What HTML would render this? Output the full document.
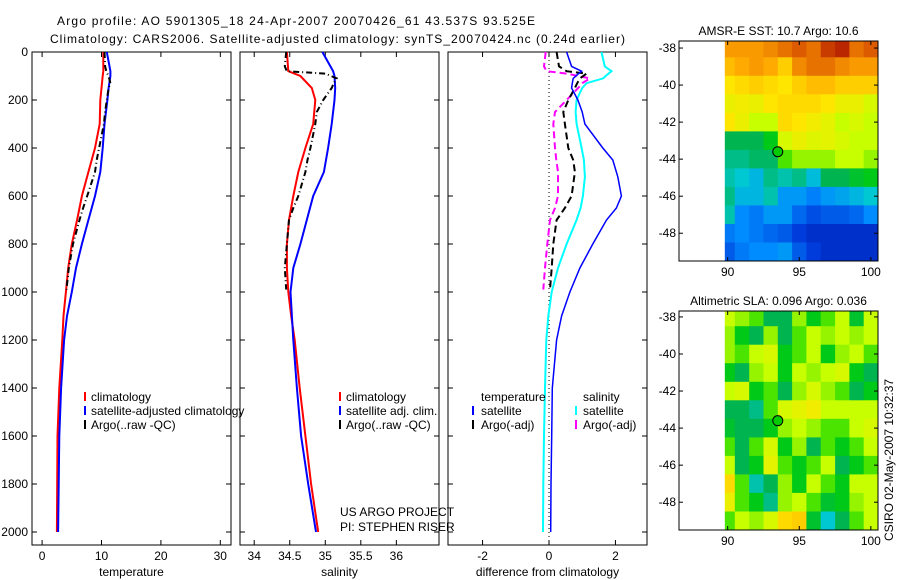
<!DOCTYPE html>
<html><head><meta charset="utf-8"><style>
body{margin:0;background:#fff;}
svg{display:block;font-family:"Liberation Sans",sans-serif;}
text{font-size:12px;fill:#000;}
</style></head><body>
<svg id="c" width="900" height="580" viewBox="0 0 900 580"></svg>
<script>
// ---------- profile data ----------
const depthClim=[0,80,100,150,200,300,400,500,600,700,800,900,1000,1100,1200,1400,1600,1800,2000];
const tempClim=[10.3,10.3,10.2,10.0,9.8,9.7,8.9,7.8,6.7,5.9,5.0,4.4,4.0,3.6,3.4,2.9,2.6,2.55,2.5];
const tempSat=[10.9,11.5,11.5,11.2,11.0,10.5,10.2,9.8,8.9,7.8,6.7,5.7,5.0,4.2,3.7,3.2,2.9,2.8,2.7];
const salClim=[34.46,34.48,34.65,34.81,34.86,34.83,34.72,34.62,34.55,34.49,34.46,34.46,34.48,34.52,34.57,34.64,34.72,34.8,34.9];
const salSat=[34.96,35.11,35.13,35.14,35.13,35.09,35.04,34.98,34.83,34.74,34.65,34.55,34.51,34.53,34.55,34.6,34.66,34.76,34.87];
const depthArgo=[0,60,80,90,110,130,150,200,250,300,400,450,500,600,650,700,800,900,990];
const tempArgo=[10.5,10.6,10.8,11.0,11.3,11.5,11.2,10.9,10.6,10.4,9.6,9.2,8.9,7.6,6.9,6.3,5.2,4.5,4.1];
const salArgo=[34.45,34.43,34.46,35.0,35.16,35.12,35.09,34.97,34.88,34.86,34.79,34.75,34.72,34.62,34.55,34.49,34.46,34.43,34.45];
const dTsat=[0.53,0.68,0.98,0.85,0.73,0.7,0.68,0.87,1.0,1.08,1.62,1.92,2.07,2.18,2.03,1.73,1.32,0.93,0.63,0.38,0.23,0.1,0.08,0.06,0.05];
const depthDiff=[0,60,80,95,110,130,150,200,250,300,400,450,520,600,650,700,800,900,1000,1100,1200,1400,1600,1800,2000];
const dSsat=[1.58,1.68,1.88,1.75,1.63,1.13,1.0,0.83,0.8,0.83,0.98,1.05,1.08,1.02,0.95,0.83,0.53,0.27,0.08,-0.02,-0.08,-0.12,-0.15,-0.17,-0.18];
const dTargo=[0.23,0.3,0.53,1.13,0.93,0.85,0.78,0.58,0.43,0.48,0.58,0.73,0.78,0.68,0.48,0.23,0.13,0.08,0.03];
const dSargo=[-0.1,-0.15,-0.07,0.53,1.23,1.0,0.88,0.53,0.18,0.13,0.18,0.22,0.27,0.27,0.18,0.03,-0.05,-0.12,-0.17];
// ---------- map data (colour index 0..1) ----------
const mapLons=[90,91,92,93,94,95,96,97,98,99,100];
const mapLats=[-38,-39,-40,-41,-42,-43,-44,-45,-46,-47,-48,-49];
const sstGrid=[
[0.8,0.8,0.8,0.82,0.85,0.88,0.85,0.92,0.95,0.85,0.88],
[0.75,0.78,0.8,0.78,0.72,0.82,0.85,0.85,0.82,0.8,0.8],
[0.68,0.7,0.72,0.7,0.68,0.72,0.75,0.75,0.72,0.72,0.72],
[0.65,0.66,0.65,0.68,0.7,0.7,0.7,0.68,0.65,0.65,0.62],
[0.68,0.65,0.6,0.6,0.7,0.68,0.66,0.64,0.6,0.62,0.6],
[0.45,0.45,0.45,0.5,0.62,0.65,0.63,0.64,0.62,0.6,0.6],
[0.42,0.42,0.44,0.44,0.55,0.58,0.58,0.58,0.6,0.6,0.58],
[0.4,0.38,0.35,0.42,0.4,0.42,0.36,0.45,0.45,0.48,0.5],
[0.42,0.35,0.35,0.4,0.3,0.3,0.26,0.3,0.32,0.35,0.38],
[0.4,0.28,0.25,0.3,0.3,0.22,0.18,0.2,0.2,0.22,0.28],
[0.25,0.28,0.25,0.22,0.2,0.15,0.12,0.12,0.12,0.12,0.12],
[0.2,0.25,0.28,0.28,0.3,0.2,0.15,0.12,0.12,0.12,0.12]];
const slaGrid=[
[0.6,0.58,0.55,0.45,0.45,0.58,0.5,0.55,0.6,0.48,0.6],
[0.58,0.5,0.45,0.58,0.45,0.55,0.6,0.58,0.6,0.58,0.6],
[0.58,0.55,0.6,0.62,0.5,0.55,0.6,0.5,0.58,0.6,0.55],
[0.5,0.45,0.58,0.6,0.5,0.6,0.58,0.6,0.62,0.5,0.45],
[0.6,0.62,0.5,0.55,0.45,0.58,0.62,0.58,0.55,0.45,0.5],
[0.45,0.45,0.42,0.55,0.62,0.64,0.66,0.6,0.6,0.6,0.6],
[0.48,0.45,0.45,0.5,0.58,0.6,0.58,0.55,0.55,0.6,0.62],
[0.55,0.45,0.55,0.62,0.5,0.58,0.45,0.55,0.5,0.55,0.6],
[0.6,0.45,0.5,0.64,0.55,0.5,0.55,0.6,0.45,0.5,0.55],
[0.7,0.55,0.4,0.45,0.58,0.5,0.6,0.55,0.5,0.6,0.6],
[0.65,0.55,0.5,0.42,0.58,0.6,0.55,0.48,0.5,0.58,0.6],
[0.55,0.6,0.58,0.62,0.7,0.72,0.48,0.38,0.45,0.55,0.6]];
const floatLon=93.5, floatLat=-43.6;
const depthTicks=[0,200,400,600,800,1000,1200,1400,1600,1800,2000];
const tempTicks=[0,10,20,30];
const salTicks=[34,34.5,35,35.5,36];
const salTickLabels=["34","34.5","35","35.5","36"];
const diffTicks=[-2,0,2];
const latTicks=[-38,-40,-42,-44,-46,-48];
const lonTicks=[90,95,100];

const NS="http://www.w3.org/2000/svg";
const svg=document.getElementById('c');
function el(tag,attrs,parent){const e=document.createElementNS(NS,tag);for(const k in attrs)e.setAttribute(k,attrs[k]);(parent||svg).appendChild(e);return e;}
function txt(x,y,s,anchor,parent,extra){const t=el('text',Object.assign({x:x,y:y,'text-anchor':anchor||'start'},extra||{}),parent);t.textContent=s;return t;}

const T0=52,DY=0.24;
function yD(d){return T0+d*DY;}
const BOT=545;
function panel(name,x0,x1,vmin,vmax,ticks,labels,xlabel,showY){
  const g=el('g',{});
  
  
  const sx=v=>x0+(v-vmin)/(vmax-vmin)*(x1-x0);
  el('rect',{x:x0,y:T0,width:x1-x0,height:BOT-T0,fill:'none',stroke:'#000','stroke-width':1},g);
  ticks.forEach((v,i)=>{const x=sx(v);
    el('line',{x1:x,y1:BOT,x2:x,y2:BOT-5,stroke:'#000'},g);
    el('line',{x1:x,y1:T0,x2:x,y2:T0+5,stroke:'#000'},g);
    const t=txt(x,560,labels[i],'middle',g);
    
    
  });
  depthTicks.forEach(d=>{const y=yD(d);
    el('line',{x1:x0,y1:y,x2:x0+5,y2:y,stroke:'#000'},g);
    el('line',{x1:x1,y1:y,x2:x1-5,y2:y,stroke:'#000'},g);
    if(showY){const t=txt(x0-4,y+4,String(d),'end',g);
      
      }
  });
  const xl=txt((x0+x1)/2,576,xlabel,'middle',g);
  
  
  return {g,sx};
}
function prof(p,vals,depths,color,dash,w,name){
  const pts=vals.map((v,i)=>p.sx(v).toFixed(1)+','+yD(depths[i]).toFixed(1)).join(' ');
  const l=el('polyline',{points:pts,fill:'none',stroke:color,'stroke-width':w||2,'stroke-dasharray':dash||'none'},p.g);
  
  
}
function leg(g,mx,tx,y,color,s,name){
  if(color){el('line',{x1:mx,y1:y-6,x2:mx,y2:y+3,stroke:color,'stroke-width':2},g);}
  const t=txt(tx,y+3,s,'start',g);
  
  
}

const t1=txt(57,25,"Argo profile: AO 5901305_18 24-Apr-2007 20070426_61 43.537S 93.525E",'start',null,{textLength:478,'font-size':'13px'});


const t2=txt(50,43,"Climatology: CARS2006. Satellite-adjusted climatology: synTS_20070424.nc (0.24d earlier)",'start',null,{textLength:575,'font-size':'13px'});



const p1=panel('temperature-panel',32,231,-1.7,31.8,tempTicks,tempTicks.map(String),'temperature',true);
prof(p1,tempClim,depthClim,'#f00',null,2,'temp-climatology-line');
prof(p1,tempSat,depthClim,'#00f',null,2,'temp-satellite-line');
prof(p1,tempArgo,depthArgo,'#000','6,3,1,3',2,'temp-argo-line');
leg(p1.g,85,91,398,'#f00','climatology','legend-climatology');
leg(p1.g,85,91,412,'#00f','satellite-adjusted climatology','legend-satellite');
leg(p1.g,85,91,426,'#000','Argo(..raw -QC)','legend-argo');

const p2=panel('salinity-panel',240,439,33.8,36.6,salTicks,salTickLabels,'salinity',false);
prof(p2,salClim,depthClim,'#f00',null,2,'sal-climatology-line');
prof(p2,salSat,depthClim,'#00f',null,2,'sal-satellite-line');
prof(p2,salArgo,depthArgo,'#000','6,3,1,3',2,'sal-argo-line');
leg(p2.g,340,346,398,'#f00','climatology','legend-climatology');
leg(p2.g,340,346,412,'#00f','satellite adj. clim.','legend-satellite');
leg(p2.g,340,346,426,'#000','Argo(..raw -QC)','legend-argo');
const c1=txt(340,516,'US ARGO PROJECT','start',p2.g);


const c2=txt(340,531,'PI: STEPHEN RISER','start',p2.g);



const p3=panel('difference-panel',448,647,-3.04,2.95,diffTicks,diffTicks.map(String),'difference from climatology',false);
el('line',{x1:p3.sx(0),y1:T0,x2:p3.sx(0),y2:BOT,stroke:'#000','stroke-dasharray':'1,3'},p3.g);
prof(p3,dSargo,depthArgo,'#f0f','7,4',2,'sal-argo-diff-line');
prof(p3,dTargo,depthArgo,'#000','7,4',2,'temp-argo-diff-line');
prof(p3,dSsat,depthDiff,'#0ff',null,2,'sal-satellite-diff-line');
prof(p3,dTsat,depthDiff,'#00f',null,1.5,'temp-satellite-diff-line');
leg(p3.g,0,481,398,null,'temperature','legend-temperature-header');
leg(p3.g,0,583,398,null,'salinity','legend-salinity-header');
leg(p3.g,473,481,412,'#00f','satellite','legend-temp-satellite');
leg(p3.g,473,481,426,'#000','Argo(-adj)','legend-temp-argo');
leg(p3.g,576,583,412,'#0ff','satellite','legend-sal-satellite');
leg(p3.g,576,583,426,'#f0f','Argo(-adj)','legend-sal-argo');

// ---------- maps ----------
const cmapStops=[[0,[0,0,130]],[0.15,[0,60,220]],[0.28,[0,140,255]],[0.38,[0,200,210]],[0.45,[0,180,80]],[0.52,[0,210,0]],[0.6,[200,255,0]],[0.68,[255,230,0]],[0.78,[255,170,0]],[0.88,[220,90,0]],[1,[160,0,0]]];
function cmap(v){
  v=Math.max(0,Math.min(1,v));
  for(let i=1;i<cmapStops.length;i++){
    if(v<=cmapStops[i][0]){const a=cmapStops[i-1],b=cmapStops[i];const f=(v-a[0])/(b[0]-a[0]);
      return 'rgb('+a[1].map((c,k)=>Math.round(c+(b[1][k]-c)*f)).join(',')+')';}
  }
  return 'rgb(160,0,0)';
}
function mapPanel(name,top,bottom,latTop,latBot,grid,title,clipId){
  const x0=679,x1=878,lonL=86.6,lonR=100.5;
  const g=el('g',{});
  
  
  const sx=l=>x0+(l-lonL)/(lonR-lonL)*(x1-x0);
  const sy=a=>top+(latTop-a)/(latTop-latBot)*(bottom-top);
  const cp=el('clipPath',{id:clipId},g);
  el('rect',{x:sx(89.8),y:top,width:x1-sx(89.8),height:bottom-top},cp);
  const cg=el('g',{'clip-path':'url(#'+clipId+')'},g);
  mapLats.forEach((la,i)=>mapLons.forEach((lo,j)=>{
    const r=el('rect',{x:sx(lo-0.5).toFixed(1),y:sy(la+0.5).toFixed(1),width:(sx(lo+0.5)-sx(lo-0.5)+0.5).toFixed(1),height:(sy(la-0.5)-sy(la+0.5)+0.5).toFixed(1),fill:cmap(grid[i][j])},cg);
    
    
  }));
  el('rect',{x:x0,y:top,width:x1-x0,height:bottom-top,fill:'none',stroke:'#000'},g);
  latTicks.forEach(a=>{const y=sy(a);
    el('line',{x1:x0,y1:y,x2:x0+4,y2:y,stroke:'#000'},g);
    el('line',{x1:x1,y1:y,x2:x1-4,y2:y,stroke:'#000'},g);
    const t=txt(x0-3,y+4,String(a),'end',g);
    
    });
  lonTicks.forEach(l=>{const x=sx(l);
    el('line',{x1:x,y1:bottom,x2:x,y2:bottom-4,stroke:'#000'},g);
    el('line',{x1:x,y1:top,x2:x,y2:top+4,stroke:'#000'},g);
    const t=txt(x,bottom+15,String(l),'middle',g);
    
    });
  const c=el('circle',{cx:sx(floatLon),cy:sy(floatLat),r:5,fill:'#0c0',stroke:'#000'},g);
  
  
  const tt=txt((x0+x1)/2,top-6,title,'middle',g);
  
  
}
mapPanel('sst-map',41,261,-37.62,-49.5,sstGrid,'AMSR-E SST: 10.7 Argo: 10.6','clipA');
mapPanel('sla-map',311,530,-37.68,-49.5,slaGrid,'Altimetric SLA: 0.096 Argo: 0.036','clipB');
const st=txt(0,0,'CSIRO 02-May-2007 10:32:37','middle',null,{transform:'translate(893,460) rotate(-90)'});


</script>
</body></html>
